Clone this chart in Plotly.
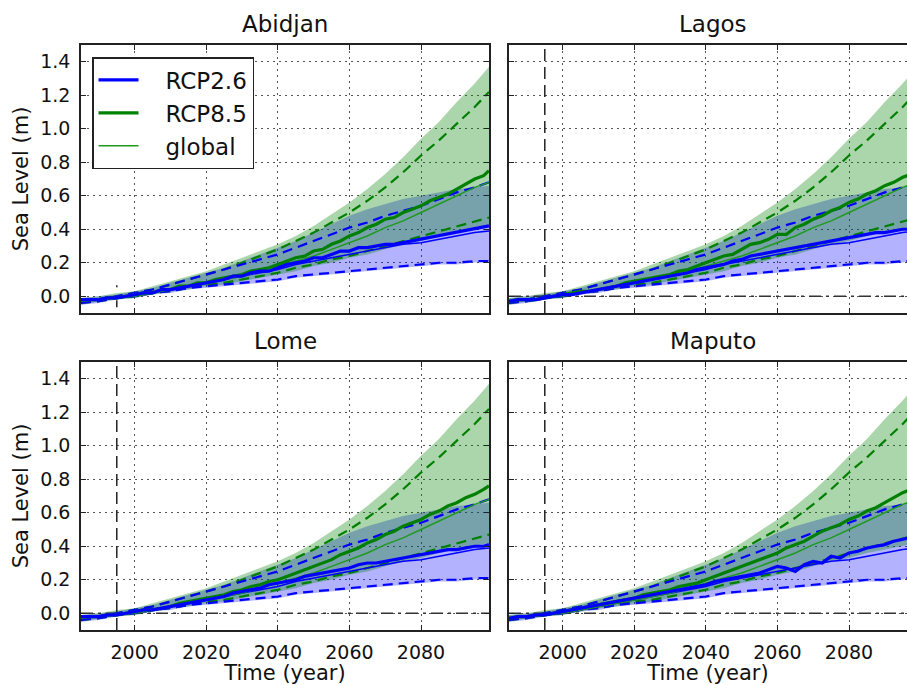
import plotly.graph_objects as go

# ---------------- data ----------------
YEARS = [1985, 1990, 1995, 2000, 2005, 2010, 2015, 2020, 2025, 2030, 2035, 2040,
         2045, 2050, 2055, 2060, 2065, 2070, 2075, 2080, 2085, 2090, 2095, 2099]

CITIES = ["Abidjan", "Lagos", "Lome", "Maputo"]

# ensemble bands (shaded), shared shape across the four stations
RCP26_BAND_LO = [-0.05, -0.04, -0.02, -0.01, 0.01, 0.02, 0.04, 0.05, 0.06, 0.07, 0.08, 0.09,
                 0.11, 0.12, 0.13, 0.14, 0.15, 0.16, 0.17, 0.18, 0.19, 0.19, 0.20, 0.21]
RCP26_BAND_HI = [-0.01, 0.00, 0.01, 0.03, 0.05, 0.08, 0.11, 0.14, 0.17, 0.21, 0.25, 0.29,
                 0.33, 0.38, 0.43, 0.48, 0.52, 0.55, 0.58, 0.60, 0.62, 0.64, 0.65, 0.66]
RCP85_BAND_LO = [-0.05, -0.03, -0.02, -0.01, 0.01, 0.03, 0.04, 0.06, 0.07, 0.09, 0.11, 0.13,
                 0.15, 0.18, 0.20, 0.23, 0.25, 0.28, 0.31, 0.33, 0.36, 0.38, 0.40, 0.42]
RCP85_BAND_HI = [-0.01, 0.00, 0.02, 0.03, 0.06, 0.09, 0.12, 0.15, 0.19, 0.23, 0.27, 0.31,
                 0.36, 0.42, 0.49, 0.56, 0.64, 0.73, 0.83, 0.94, 1.04, 1.16, 1.27, 1.37]

# dashed percentile lines
RCP26_DASH_LO = [-0.04, -0.03, -0.01, 0.00, 0.02, 0.03, 0.05, 0.06, 0.07, 0.08, 0.09, 0.10,
                 0.12, 0.13, 0.14, 0.15, 0.16, 0.17, 0.18, 0.19, 0.20, 0.20, 0.21, 0.21]
RCP26_DASH_HI = [-0.03, -0.02, 0.00, 0.02, 0.04, 0.07, 0.10, 0.13, 0.16, 0.19, 0.22, 0.25,
                 0.29, 0.33, 0.37, 0.41, 0.44, 0.48, 0.51, 0.54, 0.58, 0.62, 0.65, 0.68]
RCP85_DASH_LO = [-0.04, -0.03, -0.01, 0.00, 0.02, 0.03, 0.05, 0.07, 0.08, 0.10, 0.12, 0.14,
                 0.17, 0.19, 0.22, 0.24, 0.27, 0.30, 0.33, 0.36, 0.39, 0.42, 0.45, 0.47]
RCP85_DASH_HI = [-0.03, -0.02, 0.00, 0.02, 0.04, 0.07, 0.10, 0.13, 0.16, 0.20, 0.24, 0.28,
                 0.33, 0.38, 0.44, 0.50, 0.57, 0.65, 0.74, 0.84, 0.93, 1.03, 1.13, 1.22]

# global mean curves (thin lines)
GLOBAL_RCP26 = [-0.03, -0.02, -0.01, 0.00, 0.02, 0.04, 0.06, 0.08, 0.10, 0.12, 0.14, 0.16,
                0.19, 0.21, 0.23, 0.25, 0.27, 0.29, 0.31, 0.32, 0.34, 0.36, 0.38, 0.39]
GLOBAL_RCP85 = [-0.03, -0.02, -0.01, 0.00, 0.02, 0.04, 0.06, 0.08, 0.10, 0.12, 0.15, 0.18,
                0.21, 0.24, 0.28, 0.32, 0.36, 0.41, 0.45, 0.50, 0.55, 0.60, 0.65, 0.68]

# local medians (thick, jagged lines), per station, sampled every 2.5 years
MED_YEARS = [1985, 1987.5, 1990, 1992.5, 1995, 1997.5, 2000, 2002.5, 2005, 2007.5, 2010,
             2012.5, 2015, 2017.5, 2020, 2022.5, 2025, 2027.5, 2030, 2032.5, 2035, 2037.5,
             2040, 2042.5, 2045, 2047.5, 2050, 2052.5, 2055, 2057.5, 2060, 2062.5, 2065,
             2067.5, 2070, 2072.5, 2075, 2077.5, 2080, 2082.5, 2085, 2087.5, 2090, 2092.5,
             2095, 2097.5, 2099]
ABIDJAN_RCP26 = [-0.02, -0.02, -0.02, -0.01, -0.01, 0.00, 0.01, 0.02, 0.02, 0.04, 0.04, 0.05,
                 0.06, 0.07, 0.08, 0.09, 0.10, 0.12, 0.12, 0.14, 0.15, 0.15, 0.17, 0.19, 0.20,
                 0.21, 0.23, 0.23, 0.25, 0.27, 0.27, 0.29, 0.29, 0.30, 0.31, 0.31, 0.32, 0.33,
                 0.34, 0.35, 0.36, 0.37, 0.38, 0.39, 0.40, 0.41, 0.42]
ABIDJAN_RCP85 = [-0.02, -0.02, -0.02, -0.01, -0.01, 0.00, 0.01, 0.02, 0.02, 0.04, 0.04, 0.06,
                 0.06, 0.08, 0.08, 0.10, 0.11, 0.12, 0.13, 0.15, 0.16, 0.17, 0.19, 0.21, 0.23,
                 0.24, 0.27, 0.28, 0.31, 0.33, 0.36, 0.38, 0.41, 0.43, 0.46, 0.47, 0.50, 0.52,
                 0.54, 0.57, 0.59, 0.61, 0.64, 0.67, 0.70, 0.72, 0.75]
LAGOS_RCP26 = [-0.03, -0.02, -0.02, -0.02, -0.01, 0.00, 0.01, 0.01, 0.02, 0.03, 0.04, 0.05,
               0.06, 0.07, 0.08, 0.09, 0.10, 0.11, 0.12, 0.13, 0.14, 0.16, 0.17, 0.18, 0.19,
               0.21, 0.22, 0.24, 0.25, 0.26, 0.27, 0.28, 0.29, 0.30, 0.31, 0.32, 0.33, 0.34,
               0.35, 0.36, 0.37, 0.38, 0.38, 0.39, 0.40, 0.40, 0.41]
LAGOS_RCP85 = [-0.03, -0.02, -0.02, -0.02, -0.01, 0.00, 0.01, 0.02, 0.03, 0.03, 0.04, 0.05,
               0.06, 0.08, 0.09, 0.10, 0.11, 0.12, 0.13, 0.15, 0.16, 0.18, 0.20, 0.22, 0.24,
               0.25, 0.28, 0.31, 0.32, 0.34, 0.37, 0.37, 0.41, 0.43, 0.46, 0.48, 0.51, 0.53,
               0.56, 0.58, 0.61, 0.63, 0.66, 0.68, 0.71, 0.73, 0.75]
LOME_RCP26 = [-0.02, -0.02, -0.02, -0.01, -0.01, 0.00, 0.01, 0.02, 0.02, 0.03, 0.04, 0.05,
              0.06, 0.07, 0.08, 0.09, 0.10, 0.12, 0.13, 0.14, 0.15, 0.17, 0.18, 0.19, 0.20,
              0.22, 0.23, 0.24, 0.25, 0.26, 0.27, 0.29, 0.30, 0.30, 0.31, 0.32, 0.33, 0.34,
              0.35, 0.36, 0.37, 0.38, 0.38, 0.39, 0.40, 0.40, 0.41]
LOME_RCP85 = [-0.02, -0.02, -0.02, -0.01, -0.01, 0.00, 0.01, 0.02, 0.02, 0.03, 0.04, 0.06,
              0.07, 0.08, 0.09, 0.10, 0.11, 0.13, 0.14, 0.16, 0.17, 0.19, 0.20, 0.22, 0.24,
              0.26, 0.28, 0.30, 0.32, 0.35, 0.37, 0.39, 0.42, 0.44, 0.47, 0.49, 0.52, 0.54,
              0.56, 0.59, 0.61, 0.64, 0.66, 0.69, 0.71, 0.74, 0.76]
MAPUTO_RCP26 = [-0.03, -0.02, -0.02, -0.01, -0.01, 0.00, 0.01, 0.02, 0.03, 0.04, 0.05, 0.06,
                0.07, 0.08, 0.09, 0.10, 0.11, 0.12, 0.13, 0.14, 0.15, 0.16, 0.17, 0.19, 0.20,
                0.21, 0.22, 0.23, 0.24, 0.26, 0.28, 0.27, 0.25, 0.29, 0.31, 0.30, 0.34, 0.33,
                0.36, 0.37, 0.39, 0.40, 0.41, 0.43, 0.44, 0.45, 0.46]
MAPUTO_RCP85 = [-0.03, -0.02, -0.02, -0.01, -0.01, 0.00, 0.01, 0.02, 0.03, 0.04, 0.05, 0.06,
                0.07, 0.08, 0.09, 0.11, 0.12, 0.13, 0.14, 0.16, 0.17, 0.18, 0.20, 0.22, 0.24,
                0.26, 0.28, 0.30, 0.32, 0.34, 0.36, 0.39, 0.41, 0.43, 0.46, 0.49, 0.51, 0.53,
                0.56, 0.58, 0.61, 0.63, 0.66, 0.69, 0.72, 0.74, 0.77]

MEDIANS = {"Abidjan": (ABIDJAN_RCP26, ABIDJAN_RCP85),
           "Lagos": (LAGOS_RCP26, LAGOS_RCP85),
           "Lome": (LOME_RCP26, LOME_RCP85),
           "Maputo": (MAPUTO_RCP26, MAPUTO_RCP85)}

REF_YEAR = 1995
Y_TICKS = [0.0, 0.2, 0.4, 0.6, 0.8, 1.0, 1.2, 1.4]
X_TICKS = [2000, 2020, 2040, 2060, 2080]
LEGEND_NAMES = ["RCP2.6", "RCP8.5", "global"]

# ---------------- styling ----------------
BLUE = "#0000ff"
GREEN = "#008000"
BLUE_FILL = "rgba(0,0,255,0.30)"
GREEN_FILL = "rgba(0,128,0,0.33)"
FONT = "DejaVu Sans"
W, H = 907, 685
PAD = "\u00a0\u00a0\u00a0"

# panel pixel boxes (left, right, top, bottom)
LEFT_X = (81, 489)
RIGHT_X = (509, 907)
TOP_Y = (45, 313)
BOT_Y = (362, 630)
PX_PER_YEAR = (LEFT_X[1] - LEFT_X[0]) / (2099 - 1985)


def xdom(px):
    return [px[0] / W, px[1] / W]


def ydom(py):
    return [1 - py[1] / H, 1 - py[0] / H]


fig = go.Figure()

panels = [  # city, xaxis id, yaxis id, col, row
    ("Abidjan", "x", "y", 0, 0),
    ("Lagos", "x2", "y2", 1, 0),
    ("Lome", "x3", "y3", 0, 1),
    ("Maputo", "x4", "y4", 1, 1),
]

for city, xa, ya, col, row in panels:
    med26, med85 = MEDIANS[city]
    first = city == "Abidjan"
    common = dict(xaxis=xa, yaxis=ya, hoverinfo="skip")
    x0 = 1985
    x1 = 2099 if col == 0 else 1985 + (RIGHT_X[1] - RIGHT_X[0]) / PX_PER_YEAR

    # bands
    fig.add_trace(go.Scatter(x=YEARS, y=RCP26_BAND_LO, mode="lines", line=dict(width=0),
                             showlegend=False, **common))
    fig.add_trace(go.Scatter(x=YEARS, y=RCP26_BAND_HI, mode="lines", line=dict(width=0),
                             fill="tonexty", fillcolor=BLUE_FILL, showlegend=False, **common))
    fig.add_trace(go.Scatter(x=YEARS, y=RCP85_BAND_LO, mode="lines", line=dict(width=0),
                             showlegend=False, **common))
    fig.add_trace(go.Scatter(x=YEARS, y=RCP85_BAND_HI, mode="lines", line=dict(width=0),
                             fill="tonexty", fillcolor=GREEN_FILL, showlegend=False, **common))

    # reference lines
    if city == "Abidjan":
        fig.add_trace(go.Scatter(x=[REF_YEAR, REF_YEAR], y=[-0.065, 0.065], mode="lines",
                                 line=dict(color="#222222", width=1.5, dash="7px,13px,2px,60px"),
                                 showlegend=False, **common))
    else:
        fig.add_trace(go.Scatter(x=[REF_YEAR, REF_YEAR], y=[-0.1, 1.5], mode="lines",
                                 line=dict(color="#222222", width=1.5, dash="12px,6px"),
                                 showlegend=False, **common))
        fig.add_trace(go.Scatter(x=[x0, x1], y=[0, 0], mode="lines",
                                 line=dict(color="#333333", width=1.5, dash="12px,5px,3px,5px"),
                                 showlegend=False, **common))

    # dashed percentiles
    for ys, c in ((RCP85_DASH_LO, GREEN), (RCP85_DASH_HI, GREEN),
                  (RCP26_DASH_LO, BLUE), (RCP26_DASH_HI, BLUE)):
        fig.add_trace(go.Scatter(x=YEARS, y=ys, mode="lines",
                                 line=dict(color=c, width=2.2, dash="10px,6px"),
                                 showlegend=False, **common))

    # global curves
    fig.add_trace(go.Scatter(x=YEARS, y=GLOBAL_RCP26, mode="lines",
                             line=dict(color=BLUE, width=1.5), showlegend=False, **common))
    fig.add_trace(go.Scatter(x=YEARS, y=GLOBAL_RCP85, mode="lines", name=PAD + LEGEND_NAMES[2],
                             line=dict(color="#1f9a1f", width=1.5), showlegend=first,
                             legendrank=3, legendgroup="g3", **common))

    # local medians
    fig.add_trace(go.Scatter(x=MED_YEARS, y=med85, mode="lines", name=PAD + LEGEND_NAMES[1],
                             line=dict(color=GREEN, width=3.2), showlegend=first,
                             legendrank=2, legendgroup="g2", **common))
    fig.add_trace(go.Scatter(x=MED_YEARS, y=med26, mode="lines", name=PAD + LEGEND_NAMES[0],
                             line=dict(color=BLUE, width=3.2), showlegend=first,
                             legendrank=1, legendgroup="g1", **common))

axis_common = dict(
    showline=True, linecolor="#222222", linewidth=1.5,
    ticks="inside", ticklen=5, tickwidth=1, tickcolor="#222222",
    showgrid=True, gridcolor="#555555", gridwidth=1, griddash="2px,4px",
    zeroline=False, tickfont=dict(family=FONT, size=19, color="#111111"),
)

layout_axes = {}
for city, xa, ya, col, row in panels:
    xk = "xaxis" + xa[1:]
    yk = "yaxis" + ya[1:]
    px = LEFT_X if col == 0 else RIGHT_X
    py = TOP_Y if row == 0 else BOT_Y
    x1 = 2099 if col == 0 else 1985 + (RIGHT_X[1] - RIGHT_X[0]) / PX_PER_YEAR
    xaxis = dict(axis_common, domain=xdom(px), range=[1985, x1], anchor=ya,
                 tickvals=X_TICKS, showticklabels=(row == 1), mirror="ticks",
                 ticklabelstandoff=4)
    if row == 1:
        xaxis["title"] = dict(text="Time (year)", font=dict(family=FONT, size=21, color="#111111"),
                              standoff=6)
    yaxis = dict(axis_common, domain=ydom(py), range=[-0.1, 1.5], anchor=xa,
                 tickvals=Y_TICKS, tickformat=".1f", showticklabels=(col == 0),
                 mirror=("ticks" if col == 0 else False), ticklabelstandoff=5)
    if col == 0:
        yaxis["title"] = dict(text="Sea Level (m)", font=dict(family=FONT, size=21, color="#111111"),
                              standoff=6)
    layout_axes[xk] = xaxis
    layout_axes[yk] = yaxis

annotations = []
for city, xa, ya, col, row in panels:
    px = LEFT_X if col == 0 else (RIGHT_X[0], RIGHT_X[0] + LEFT_X[1] - LEFT_X[0])
    py = TOP_Y if row == 0 else BOT_Y
    annotations.append(dict(text=city, x=(px[0] + px[1]) / 2 / W, y=1 - (py[0] - 6) / H,
                            xref="paper", yref="paper", xanchor="center", yanchor="bottom",
                            showarrow=False, font=dict(family=FONT, size=23, color="#111111")))

fig.update_layout(
    width=W, height=H,
    margin=dict(l=0, r=0, t=0, b=0),
    paper_bgcolor="white", plot_bgcolor="white",
    font=dict(family=FONT, color="#111111"),
    annotations=annotations,
    legend=dict(x=92 / W, y=1 - 57 / H, xanchor="left", yanchor="top",
                traceorder="normal", bgcolor="white", bordercolor="#222222", borderwidth=1.5,
                font=dict(family=FONT, size=23, color="#111111"),
                itemwidth=40, tracegroupgap=1),
    **layout_axes,
)

fig.write_html("out.html", config={"displayModeBar": False},
               post_script="document.body.style.margin='0px';document.body.style.overflow='hidden';")
